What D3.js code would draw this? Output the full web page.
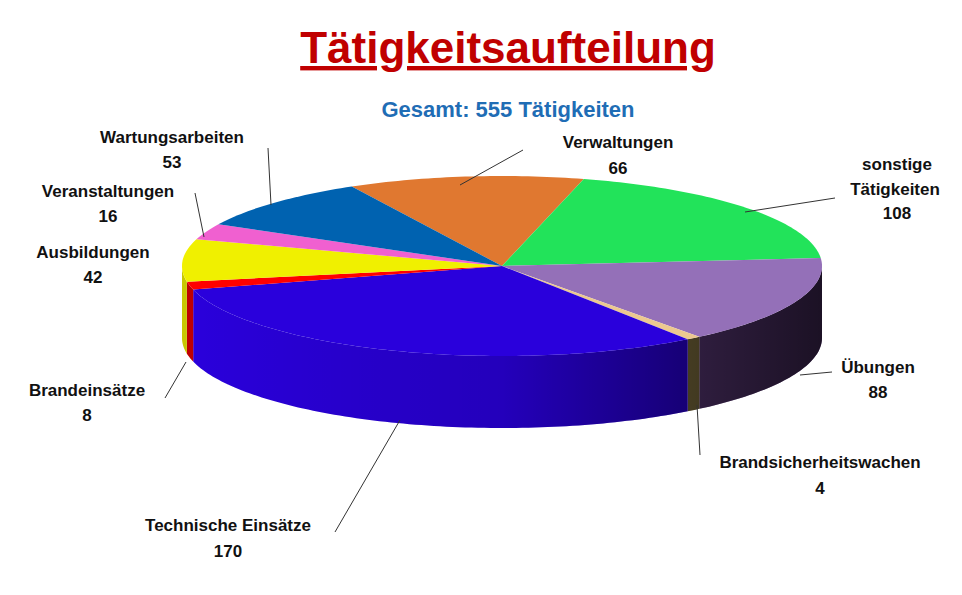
<!DOCTYPE html>
<html><head><meta charset="utf-8">
<script src="https://cdn.jsdelivr.net/npm/d3@7"></script>
<style>body{margin:0;background:#fff}text{font-family:Arial,"Liberation Sans",sans-serif;font-weight:bold}</style>
</head><body>
<svg id="chart" width="962" height="595"></svg>
<script>
var categories = ["Verwaltungen", "sonstige Tätigkeiten", "Übungen", "Brandsicherheitswachen",
  "Technische Einsätze", "Brandeinsätze", "Ausbildungen", "Veranstaltungen", "Wartungsarbeiten"];
var values = [66, 108, 88, 4, 170, 8, 42, 16, 53];
var colors = ["#e07830", "#22e35a", "#9470b8", "#ecc890", "#2a00dc", "#ff0000", "#f0f000", "#f060d0", "#0062b0"];
var sideColors = ["#a05020", "#18a040", "#5a3878", "#807040", "#2400d0", "#c00000", "#c8c800", "#c040a0", "#004880"];
// label lines [x, y, text], label anchor for leader
var labelLines = [
  [[618, 148, "Verwaltungen"], [618, 174, "66"]],
  [[897, 170, "sonstige"], [895, 195, "Tätigkeiten"], [897, 219, "108"]],
  [[878, 373, "Übungen"], [878, 398, "88"]],
  [[820, 468, "Brandsicherheitswachen"], [820, 494, "4"]],
  [[228, 531, "Technische Einsätze"], [228, 557, "170"]],
  [[87, 396, "Brandeinsätze"], [87, 421, "8"]],
  [[93, 258, "Ausbildungen"], [93, 283, "42"]],
  [[108, 197, "Veranstaltungen"], [108, 222, "16"]],
  [[172, 143, "Wartungsarbeiten"], [172, 168, "53"]]
];
var leaders = [[523,150,460,185],[835,198,745,212],[832,372,800,375],[700,455,697,405],
  [335,532,400,420],[165,398,186,362],[null],[195,193,204,237],[268,148,271,205]];

var svg = d3.select("#chart");
var cx = 502, cy = 266, rx = 320, ry = 90, depth = 72;
var pie = d3.pie().sort(null).startAngle(-28 * Math.PI / 180).endAngle((360 - 28) * Math.PI / 180);
var arcs = pie(values);

function pt(t, dy) { return [cx + rx * Math.sin(t), cy - ry * Math.cos(t) + (dy || 0)]; }
function sample(a0, a1, dy) {
  var n = Math.max(2, Math.ceil(Math.abs(a1 - a0) / 0.02)), out = [];
  for (var i = 0; i <= n; i++) out.push(pt(a0 + (a1 - a0) * i / n, dy));
  return out;
}
var line = d3.line();

var defs = svg.append("defs");
var g = defs.append("linearGradient").attr("id", "shade").attr("x1", 0).attr("x2", 1).attr("y1", 0).attr("y2", 0)
  .attr("gradientUnits", "userSpaceOnUse").attr("x1", 180).attr("x2", 825);
g.append("stop").attr("offset", 0).attr("stop-color", "#000").attr("stop-opacity", 0);
g.append("stop").attr("offset", 0.5).attr("stop-color", "#000").attr("stop-opacity", 0.15);
g.append("stop").attr("offset", 1).attr("stop-color", "#000").attr("stop-opacity", 0.7);

// side walls: visible portion between 90° and 270°
var lo = Math.PI / 2, hi = 3 * Math.PI / 2;
arcs.forEach(function(a, i) {
  var s = a.startAngle, e = a.endAngle;
  [[s, e], [s - 2 * Math.PI, e - 2 * Math.PI]].forEach(function(r) {
    var a0 = Math.max(r[0], lo), a1 = Math.min(r[1], hi);
    if (a1 <= a0) return;
    var top = sample(a0, a1, 0), bot = sample(a1, a0, depth);
    var p = line(top.concat(bot)) + "Z";
    svg.append("path").attr("d", p).attr("fill", i === 4 ? colors[i] : sideColors[i]);
    svg.append("path").attr("d", p).attr("fill", "url(#shade)");
  });
});

// top faces
arcs.forEach(function(a, i) {
  var pts = [[cx, cy]].concat(sample(a.startAngle, a.endAngle, 0));
  svg.append("path").attr("d", line(pts) + "Z").attr("fill", colors[i]);
});

// leaders
leaders.forEach(function(l) {
  if (l[0] == null) return;
  svg.append("line").attr("x1", l[0]).attr("y1", l[1]).attr("x2", l[2]).attr("y2", l[3])
    .attr("stroke", "#333").attr("stroke-width", 1);
});

// labels
labelLines.forEach(function(ls) {
  ls.forEach(function(t) {
    svg.append("text").attr("x", t[0]).attr("y", t[1]).attr("text-anchor", "middle")
      .attr("font-size", 17).attr("fill", "#111").text(t[2]);
  });
});

svg.append("text").attr("x", 508).attr("y", 63).attr("text-anchor", "middle").attr("font-size", 44)
  .attr("fill", "#c00000").attr("text-decoration", "underline").text("Tätigkeitsaufteilung");
svg.append("text").attr("x", 508).attr("y", 117).attr("text-anchor", "middle").attr("font-size", 22)
  .attr("fill", "#1f6db5").text("Gesamt: 555 Tätigkeiten");
</script>
</body></html>
